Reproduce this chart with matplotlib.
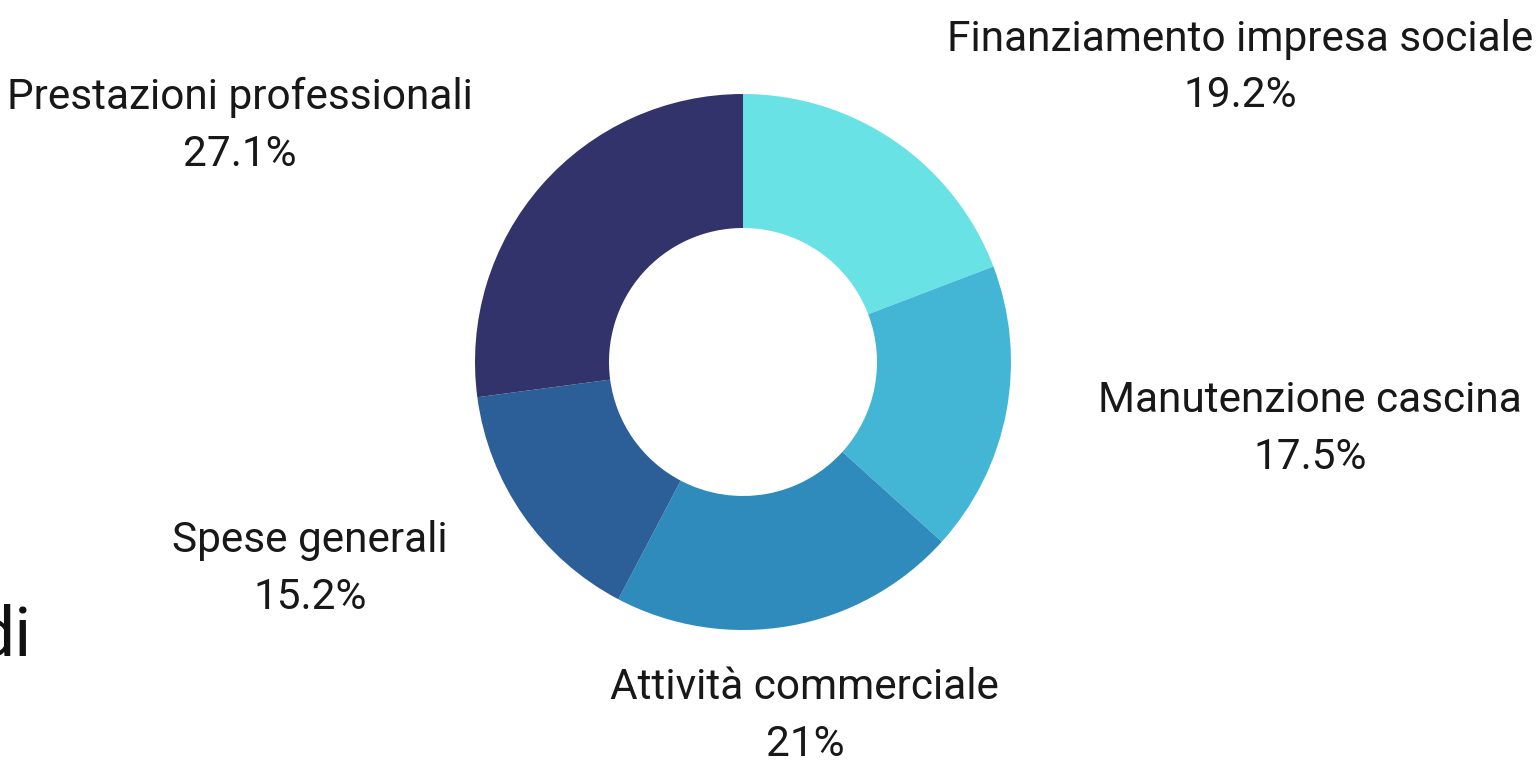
import matplotlib
matplotlib.use("Agg")
import matplotlib.pyplot as plt

# Ripartizione delle spese
categories = ["Finanziamento impresa sociale", "Manutenzione cascina",
              "Attività commerciale", "Spese generali", "Prestazioni professionali"]
shares = [19.2, 17.5, 21.0, 15.2, 27.1]
share_labels = ["19.2%", "17.5%", "21%", "15.2%", "27.1%"]
colors = ["#69E2E6", "#43B6D6", "#2E8BBC", "#2C5E97", "#33336C"]

# label centres, in units of the outer radius
label_pos = [(1.854, 1.100), (2.116, -0.25), (0.231, -1.321),
             (-1.616, -0.772), (-1.877, 0.881)]

W, H = 1537, 767
cx, cy, R = 743, 362, 268

plt.rcParams["font.family"] = ["Roboto", "DejaVu Sans"]
fig = plt.figure(figsize=(W / 100, H / 100), dpi=100)
ax = fig.add_axes([0, 0, 1, 1])

ax.pie(shares, colors=colors, startangle=90, counterclock=False,
       radius=1.0, wedgeprops=dict(width=0.5, linewidth=0))

ax.set_xlim(-cx / R, (W - cx) / R)
ax.set_ylim(-(H - cy) / R, cy / R)
ax.set_aspect("equal")
ax.axis("off")

for name, lab, (x, y) in zip(categories, share_labels, label_pos):
    ax.text(x, y, f"{name}\n{lab}", ha="center", va="center",
            fontsize=30.5, color="#181818", linespacing=1.48)

# trailing word of the adjacent heading, running off the left edge
fig.text(-24 / W, 1 - 655 / H, "di", ha="left", va="baseline",
         fontsize=50, color="#111111")

fig.savefig("out.png", dpi=100)
